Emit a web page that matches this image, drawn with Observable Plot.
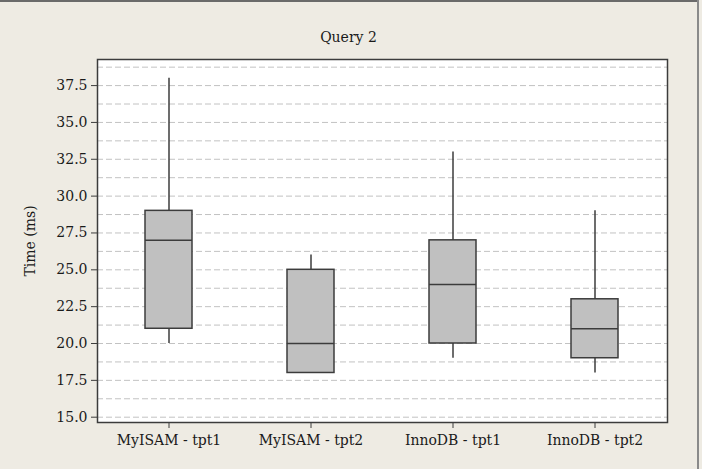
<!DOCTYPE html>
<html><head><meta charset="utf-8">
<script src="https://cdn.jsdelivr.net/npm/d3@7"></script>
<script src="https://cdn.jsdelivr.net/npm/@observablehq/plot@0.6"></script>
<style>
html,body{margin:0;padding:0;background:#eeebe3;}
#wrap{position:relative;width:702px;height:469px;overflow:hidden;background:#eeebe3;}
#wrap svg{display:block;}
.edge-top{position:absolute;left:0;top:0;width:699px;height:2px;background:#6a6a6a;}
.edge-right{position:absolute;left:697px;top:0;width:2px;height:469px;background:#8a8a8a;}
</style></head><body><div id="wrap"><div class="edge-top"></div><div class="edge-right"></div></div>
<script>
const categories = ["MyISAM - tpt1", "MyISAM - tpt2", "InnoDB - tpt1", "InnoDB - tpt2"];
const minValues = [20, 18, 19, 18];
const q1Values = [21, 18, 20, 19];
const medianValues = [27, 20, 24, 21];
const q3Values = [29, 25, 27, 23];
const maxValues = [38, 26, 33, 29];
const yTicks = [15, 17.5, 20, 22.5, 25, 27.5, 30, 32.5, 35, 37.5];
const gridValues = [15, 16.25, 17.5, 18.75, 20, 21.25, 22.5, 23.75, 25, 26.25, 27.5, 28.75, 30, 31.25, 32.5, 33.75, 35, 36.25, 37.5, 38.75];
const titleText = "Query 2";
const yLabel = "Time (ms)";

const data = categories.map((c, i) => ({
  cat: c, min: minValues[i], q1: q1Values[i], med: medianValues[i], q3: q3Values[i], max: maxValues[i]
}));

const ink = "#3c3c3c";
const chart = Plot.plot({
  width: 702,
  height: 469,
  marginLeft: 97,
  marginRight: 35,
  marginTop: 59,
  marginBottom: 47,
  style: {fontFamily: "'DejaVu Serif', 'Liberation Serif', serif", fontSize: "14px", background: "transparent", color: "#1a1a1a", overflow: "visible"},
  x: {domain: categories, paddingInner: 2/3, paddingOuter: 1/3},
  y: {domain: [14.64, 39.27]},
  marks: [
    Plot.frame({fill: "white"}),
    Plot.ruleY(gridValues, {stroke: "#c2c2c2", strokeDasharray: "6,3", strokeWidth: 1}),
    Plot.ruleX(data, {x: "cat", y1: "min", y2: "max", stroke: ink, strokeWidth: 1.5}),
    Plot.barY(data, {x: "cat", y1: "q1", y2: "q3", fill: "#c0c0c0", stroke: ink, strokeWidth: 1.5}),
    Plot.tickY(data, {x: "cat", y: "med", stroke: ink, strokeWidth: 1.5}),
    Plot.frame({stroke: ink, strokeWidth: 1.5}),
    Plot.axisY(yTicks, {tickSize: 6, tickPadding: 4, tickFormat: d3.format(".1f"), label: null, stroke: ink}),
    Plot.axisX({tickSize: 6, tickPadding: 7, label: null, stroke: ink}),
    Plot.text([titleText], {text: d => d, frameAnchor: "top", dy: -22, dx: -34, textAnchor: "middle", lineAnchor: "middle", fill: "#1a1a1a"}),
    Plot.text([yLabel], {text: d => d, frameAnchor: "left", dx: -67, rotate: -90, textAnchor: "middle", lineAnchor: "middle", fill: "#1a1a1a"})
  ]
});
document.getElementById("wrap").prepend(chart);
</script>
</body></html>
